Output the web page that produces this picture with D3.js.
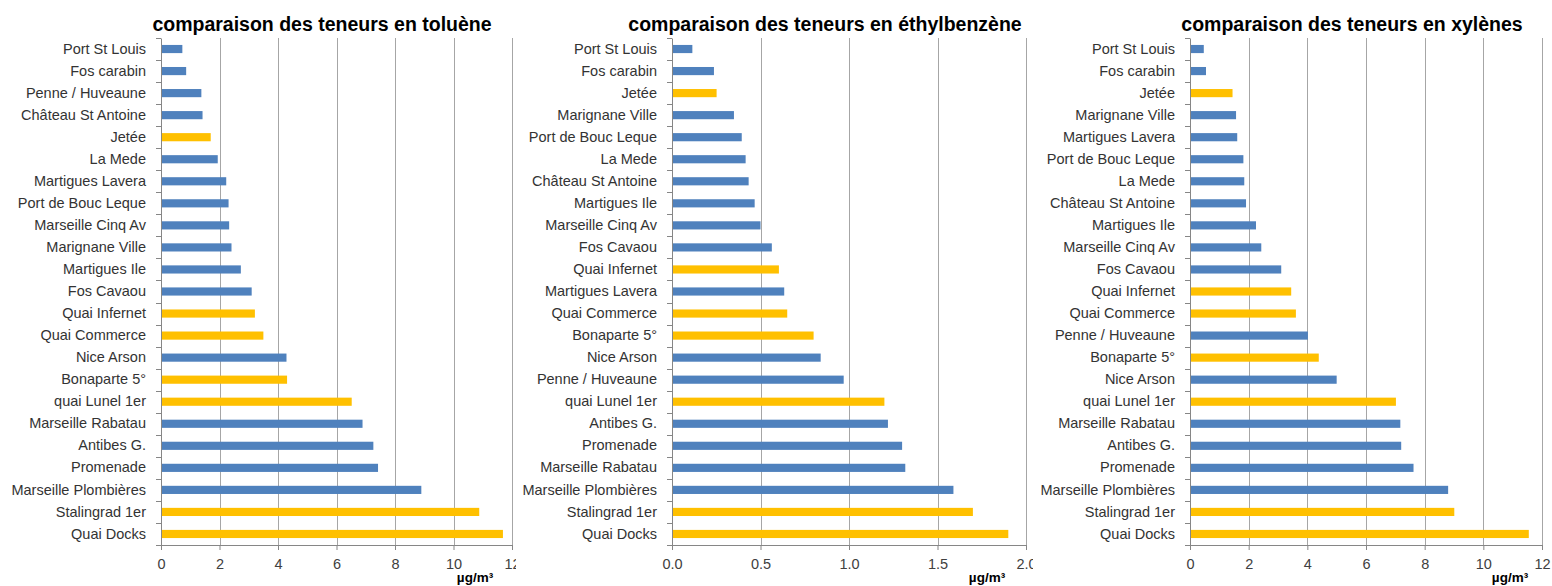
<!doctype html>
<html>
<head>
<meta charset="utf-8">
<style>
  body { margin: 0; background: #fff; }
  svg { display: block; font-family: "Liberation Sans", Arial, sans-serif; }
  .cat text { fill: #333; font-size: 14.5px; }
  .xax text { fill: #404040; font-size: 14.5px; }
  .title { font-weight: bold; font-size: 19.5px; fill: #000; }
  .unit { font-weight: bold; font-size: 13.5px; fill: #000; }
</style>
<script src="https://d3js.org/d3.v7.min.js"></script>
</head>
<body>
<svg id="chart" width="1552" height="586"></svg>
<script>
// sites shown in yellow (urban / port stations)
var highlighted = ["Jetée", "Quai Infernet", "Quai Commerce", "Bonaparte 5°",
                   "quai Lunel 1er", "Stalingrad 1er", "Quai Docks"];

// toluène
var tolueneSites = ["Port St Louis", "Fos carabin", "Penne / Huveaune", "Château St Antoine",
  "Jetée", "La Mede", "Martigues Lavera", "Port de Bouc Leque", "Marseille Cinq Av",
  "Marignane Ville", "Martigues Ile", "Fos Cavaou", "Quai Infernet", "Quai Commerce",
  "Nice Arson", "Bonaparte 5°", "quai Lunel 1er", "Marseille Rabatau", "Antibes G.",
  "Promenade", "Marseille Plombières", "Stalingrad 1er", "Quai Docks"];
var tolueneValues = [0.73, 0.86, 1.38, 1.42, 1.70, 1.94, 2.23, 2.31, 2.33, 2.41, 2.73, 3.10,
  3.21, 3.50, 4.29, 4.31, 6.52, 6.89, 7.26, 7.42, 8.90, 10.88, 11.69];
var tolueneTicks = [0, 2, 4, 6, 8, 10, 12];

// éthylbenzène
var ethylSites = ["Port St Louis", "Fos carabin", "Jetée", "Marignane Ville",
  "Port de Bouc Leque", "La Mede", "Château St Antoine", "Martigues Ile",
  "Marseille Cinq Av", "Fos Cavaou", "Quai Infernet", "Martigues Lavera", "Quai Commerce",
  "Bonaparte 5°", "Nice Arson", "Penne / Huveaune", "quai Lunel 1er", "Antibes G.",
  "Promenade", "Marseille Rabatau", "Marseille Plombières", "Stalingrad 1er", "Quai Docks"];
var ethylValues = [0.115, 0.237, 0.252, 0.35, 0.394, 0.416, 0.433, 0.467, 0.50, 0.564, 0.604,
  0.634, 0.651, 0.80, 0.84, 0.97, 1.20, 1.22, 1.30, 1.318, 1.59, 1.70, 1.90];
var ethylTicks = [0, 0.5, 1.0, 1.5, 2.0];

// xylènes
var xyleneSites = ["Port St Louis", "Fos carabin", "Jetée", "Marignane Ville",
  "Martigues Lavera", "Port de Bouc Leque", "La Mede", "Château St Antoine", "Martigues Ile",
  "Marseille Cinq Av", "Fos Cavaou", "Quai Infernet", "Quai Commerce", "Penne / Huveaune",
  "Bonaparte 5°", "Nice Arson", "quai Lunel 1er", "Marseille Rabatau", "Antibes G.",
  "Promenade", "Marseille Plombières", "Stalingrad 1er", "Quai Docks"];
var xyleneValues = [0.47, 0.545, 1.45, 1.57, 1.61, 1.82, 1.85, 1.91, 2.25, 2.43, 3.11, 3.45,
  3.61, 4.02, 4.39, 5.0, 7.02, 7.17, 7.2, 7.62, 8.80, 9.01, 11.55];
var xyleneTicks = [0, 2, 4, 6, 8, 10, 12];

var svg = d3.select("#chart");
var plotTop = 38, plotBottom = 545;

function drawPanel(opts) {
  var clipId = "clip" + opts.id;
  svg.append("clipPath").attr("id", clipId)
     .append("rect").attr("x", opts.clipX0).attr("y", 0)
     .attr("width", opts.clipX1 - opts.clipX0).attr("height", 586);

  var g = svg.append("g").attr("clip-path", "url(#" + clipId + ")");

  var x = d3.scaleLinear().domain(opts.domain).range([opts.x0, opts.x1]);
  var y = d3.scaleBand().domain(opts.sites).range([plotTop, plotBottom]).paddingInner(0.63).paddingOuter(0.315);
  var band = d3.scaleBand().domain(opts.sites).range([plotTop, plotBottom]);

  // gridlines
  g.selectAll(".grid").data(opts.ticks.slice(1)).enter().append("line")
   .attr("x1", function(d) { return Math.round(x(d)) + 0.5; })
   .attr("x2", function(d) { return Math.round(x(d)) + 0.5; })
   .attr("y1", plotTop).attr("y2", plotBottom)
   .attr("stroke", "#a6a6a6").attr("stroke-width", 1);

  // bars
  g.selectAll(".bar").data(opts.values).enter().append("rect")
   .attr("x", x(0))
   .attr("y", function(d, i) { return y(opts.sites[i]); })
   .attr("width", function(d) { return x(d) - x(0); })
   .attr("height", y.bandwidth())
   .attr("fill", function(d, i) { return highlighted.indexOf(opts.sites[i]) >= 0 ? "#ffc000" : "#4f81bd"; });

  // x axis
  var xAxis = g.append("g").attr("class", "xax")
    .attr("transform", "translate(0," + plotBottom + ")")
    .call(d3.axisBottom(x).tickValues(opts.ticks).tickFormat(opts.fmt).tickSize(5).tickPadding(9));
  xAxis.select(".domain").remove();
  xAxis.selectAll("line").attr("stroke", "#868686");
  g.append("line").attr("x1", opts.x0 - 5).attr("x2", opts.x1)
   .attr("y1", plotBottom + 0.5).attr("y2", plotBottom + 0.5).attr("stroke", "#868686");

  // category axis
  var catAxis = g.append("g").attr("class", "cat")
    .attr("transform", "translate(" + opts.x0 + ",0)")
    .call(d3.axisLeft(band).tickSize(0).tickPadding(15));
  catAxis.select(".domain").attr("stroke", "#868686");
  g.selectAll(".ctick").data(d3.range(opts.sites.length + 1)).enter().append("line")
   .attr("x1", opts.x0 - 5).attr("x2", opts.x0)
   .attr("y1", function(i) { return Math.round(plotTop + i * band.step()) + 0.5; })
   .attr("y2", function(i) { return Math.round(plotTop + i * band.step()) + 0.5; })
   .attr("stroke", "#868686");

  // title and unit
  g.append("text").attr("class", "title")
   .attr("x", opts.titleX).attr("y", 31).attr("text-anchor", "middle")
   .text(opts.title);
  g.append("text").attr("class", "unit")
   .attr("x", opts.unitX).attr("y", 582).attr("text-anchor", "middle")
   .text("µg/m³");
}

drawPanel({ id: 1, sites: tolueneSites, values: tolueneValues, ticks: tolueneTicks,
  domain: [0, 12], x0: 161, x1: 512, clipX0: 0, clipX1: 516, fmt: d3.format("d"),
  title: "comparaison des teneurs en toluène", titleX: 322, unitX: 475 });

drawPanel({ id: 2, sites: ethylSites, values: ethylValues, ticks: ethylTicks,
  domain: [0, 2], x0: 672, x1: 1026, clipX0: 516, clipX1: 1033, fmt: d3.format(".1f"),
  title: "comparaison des teneurs en éthylbenzène", titleX: 825, unitX: 987 });

drawPanel({ id: 3, sites: xyleneSites, values: xyleneValues, ticks: xyleneTicks,
  domain: [0, 12], x0: 1190, x1: 1542, clipX0: 1033, clipX1: 1552, fmt: d3.format("d"),
  title: "comparaison des teneurs en xylènes", titleX: 1352, unitX: 1510 });
</script>
</body>
</html>
